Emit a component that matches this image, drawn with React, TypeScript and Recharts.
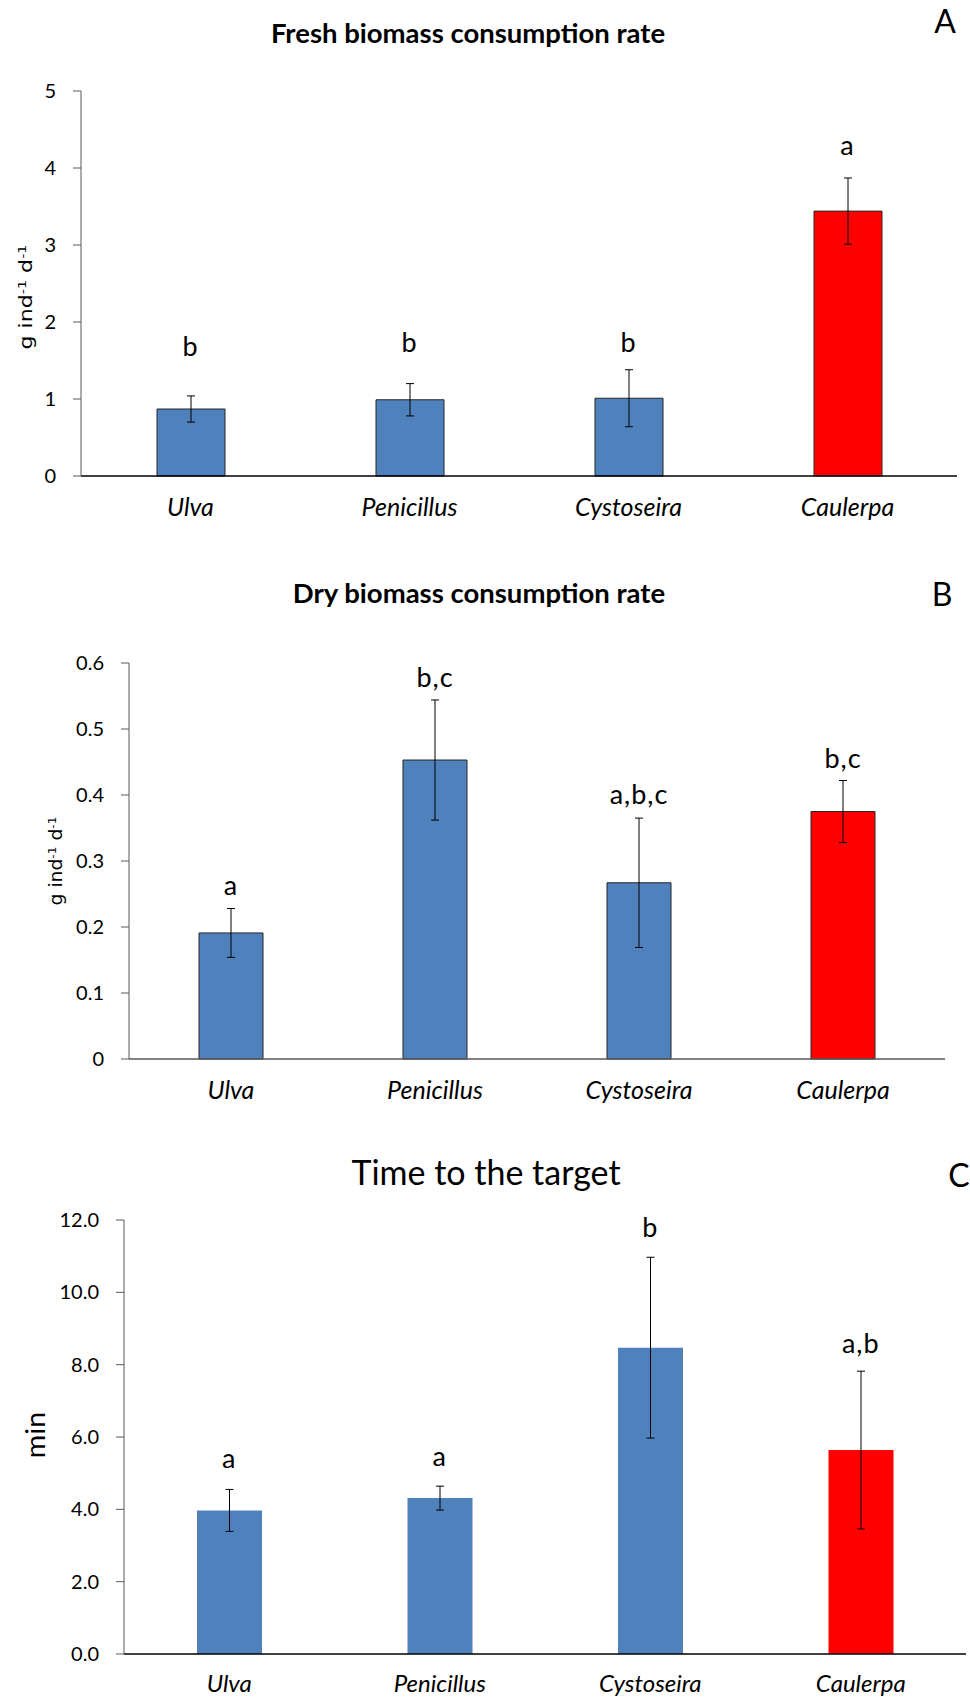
import { ComposedChart, Bar, Cell, ErrorBar, Scatter, XAxis, YAxis } from "recharts"

// categories shared by all three panels
const categories = ["Ulva", "Penicillus", "Cystoseira", "Caulerpa"]
const barColors = ["#4F81BD", "#4F81BD", "#4F81BD", "#FF0000"]

// A - fresh biomass (g ind-1 d-1)
const freshMeans = [0.87, 0.99, 1.01, 3.44]
const freshErr = [0.17, 0.21, 0.37, 0.43]
const freshLetters = ["b", "b", "b", "a"]
const freshLetterPos = [1.7, 1.75, 1.75, 4.3]
const freshTicks = [0, 1, 2, 3, 4, 5]

// B - dry biomass (g ind-1 d-1)
const dryMeans = [0.191, 0.453, 0.267, 0.375]
const dryErr = [0.037, 0.091, 0.098, 0.047]
const dryLetters = ["a", "b,c", "a,b,c", "b,c"]
const dryLetterPos = [0.264, 0.579, 0.403, 0.457]
const dryTicks = [0, 0.1, 0.2, 0.3, 0.4, 0.5, 0.6]

// C - time to the target (min)
const timeMeans = [3.97, 4.31, 8.47, 5.64]
const timeErr = [0.58, 0.33, 2.5, 2.18]
const timeLetters = ["a", "a", "b", "a,b"]
const timeLetterPos = [5.44, 5.49, 11.82, 8.6]
const timeTicks = [0, 2, 4, 6, 8, 10, 12]

const FONT = "Lato, 'Open Sans', sans-serif"

function buildRows(means: number[], errs: number[], letters: string[], letterPos: number[]) {
  return categories.map((name, i) => ({
    name,
    mean: means[i],
    err: errs[i],
    letter: letters[i],
    letterPos: letterPos[i],
  }))
}

interface PanelProps {
  top: number
  height: number
  plotTop: number
  plotBottom: number
  plotLeft: number
  plotRight: number
  rows: ReturnType<typeof buildRows>
  max: number
  ticks: number[]
  fmt: (v: number) => string
  barSize: number
  barStroke: string
  xAxisColor: string
  labelOffset: number
  labelSize: number
}

function Panel(p: PanelProps) {
  const xAxisHeight = 40
  const localTop = p.plotTop - p.top
  const localBottom = p.height - (p.plotBottom - p.top) - xAxisHeight
  return (
    <div style={{ position: "absolute", left: 0, top: p.top }}>
      <ComposedChart
        width={970}
        height={p.height}
        data={p.rows}
        margin={{ top: localTop, right: 970 - p.plotRight, bottom: localBottom, left: 0 }}
      >
        <XAxis
          dataKey="name"
          height={xAxisHeight}
          axisLine={{ stroke: p.xAxisColor, strokeWidth: 1.5 }}
          tickLine={false}
          tickSize={0}
          tickMargin={0}
          interval={0}
          tick={(t: any) => (
            <text
              x={t.x}
              y={t.y + p.labelOffset}
              textAnchor="middle"
              dominantBaseline="central"
              fontStyle="italic"
              fontSize={p.labelSize}
              fontFamily={FONT}
              fill="#000"
            >
              {t.payload.value}
            </text>
          )}
        />
        <YAxis
          width={p.plotLeft}
          domain={[0, p.max]}
          ticks={p.ticks}
          interval={0}
          tickFormatter={p.fmt}
          tickSize={8}
          tickMargin={17}
          axisLine={{ stroke: "#595959" }}
          tickLine={{ stroke: "#595959" }}
          tick={{ fill: "#000", fontSize: 20, fontFamily: FONT }}
        />
        <Bar dataKey="mean" barSize={p.barSize} stroke={p.barStroke} strokeWidth={1} isAnimationActive={false}>
          {p.rows.map((r, i) => (
            <Cell key={r.name} fill={barColors[i]} />
          ))}
          <ErrorBar dataKey="err" width={4} stroke="#000" strokeWidth={1} direction="y" />
        </Bar>
        <Scatter
          dataKey="letterPos"
          isAnimationActive={false}
          legendType="none"
          shape={(s: any) => (
            <text
              x={s.cx}
              y={s.cy}
              textAnchor="middle"
              dominantBaseline="central"
              fontSize={27}
              letterSpacing={1}
              fontFamily={FONT}
              fill="#000"
            >
              {s.payload.letter}
            </text>
          )}
        />
      </ComposedChart>
    </div>
  )
}

const abs = (x: number, y: number, extra: React.CSSProperties = {}): React.CSSProperties => ({
  position: "absolute",
  left: x,
  top: y,
  transform: "translate(-50%, -50%)",
  whiteSpace: "nowrap",
  fontFamily: FONT,
  color: "#000",
  lineHeight: 1,
  ...extra,
})

const rotated = (x: number, y: number, size: number, stretch: number, family = FONT): React.CSSProperties =>
  abs(x, y, {
    transform: `translate(-50%, -50%) rotate(-90deg) scaleX(${stretch})`,
    fontSize: size,
    fontFamily: family,
  })

const supStyle: React.CSSProperties = { fontSize: "0.65em" }

export default function App() {
  return (
    <div style={{ position: "absolute", left: 0, top: 0, width: 970, height: 1699, overflow: "hidden", background: "#fff" }}>
      <div style={abs(468, 33, { fontSize: 27.5, fontWeight: 700 })}>Fresh biomass consumption rate</div>
      <div style={abs(945, 21, { fontSize: 32 })}>A</div>
      <div style={rotated(26, 297, 17, 1.3, "'DejaVu Sans', sans-serif")}>
        g ind<sup style={supStyle}>-1</sup> d<sup style={supStyle}>-1</sup>
      </div>
      <Panel
        top={0}
        height={540}
        plotTop={91}
        plotBottom={476}
        plotLeft={81}
        plotRight={957}
        rows={buildRows(freshMeans, freshErr, freshLetters, freshLetterPos)}
        max={5}
        ticks={freshTicks}
        fmt={(v) => String(v)}
        barSize={68}
        barStroke="#262626"
        xAxisColor="#000"
        labelOffset={30}
        labelSize={25}
      />

      <div style={abs(479, 593, { fontSize: 27.5, fontWeight: 700 })}>Dry biomass consumption rate</div>
      <div style={abs(942, 594, { fontSize: 32 })}>B</div>
      <div style={rotated(56, 861, 17, 1.1, "'DejaVu Sans', sans-serif")}>
        g ind<sup style={supStyle}>-1</sup> d<sup style={supStyle}>-1</sup>
      </div>
      <Panel
        top={545}
        height={575}
        plotTop={663}
        plotBottom={1059}
        plotLeft={129}
        plotRight={945}
        rows={buildRows(dryMeans, dryErr, dryLetters, dryLetterPos)}
        max={0.6}
        ticks={dryTicks}
        fmt={(v) => String(v)}
        barSize={64}
        barStroke="#262626"
        xAxisColor="#595959"
        labelOffset={30}
        labelSize={25}
      />

      <div style={abs(486, 1172, { fontSize: 34 })}>Time to the target</div>
      <div style={abs(959, 1175, { fontSize: 32 })}>C</div>
      <div style={rotated(35, 1435, 26, 1.1)}>min</div>
      <Panel
        top={1125}
        height={574}
        plotTop={1220}
        plotBottom={1654}
        plotLeft={124}
        plotRight={966}
        rows={buildRows(timeMeans, timeErr, timeLetters, timeLetterPos)}
        max={12}
        ticks={timeTicks}
        fmt={(v) => v.toFixed(1)}
        barSize={65}
        barStroke="none"
        xAxisColor="#000"
        labelOffset={28}
        labelSize={24}
      />
    </div>
  )
}
